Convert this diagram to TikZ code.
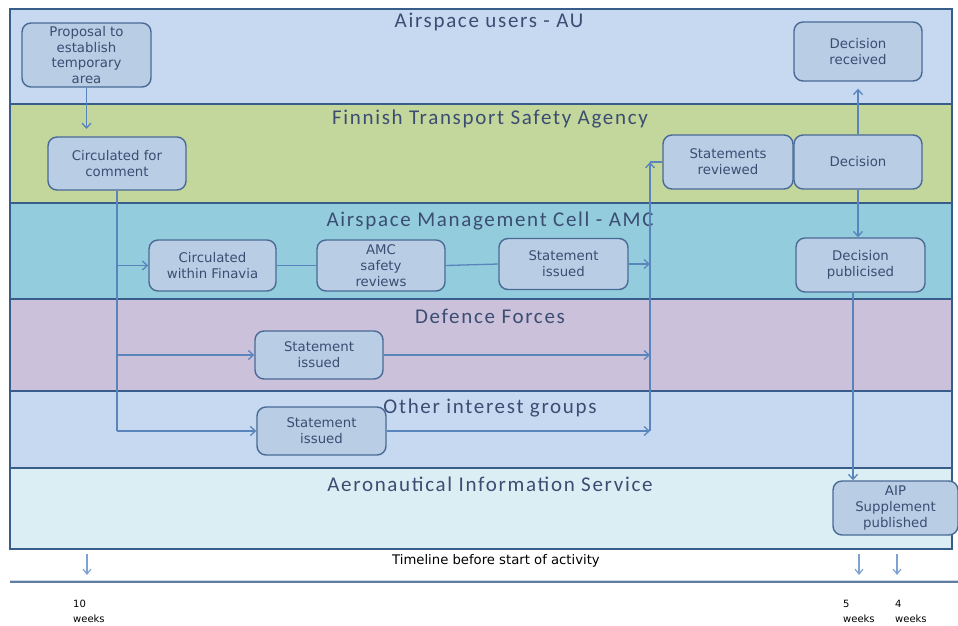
\documentclass[tikz,border=0pt]{standalone}
\usepackage{fontspec}
\usetikzlibrary{arrows.meta}
\newfontfamily\titlefont[LetterSpace=8]{Carlito}
\newfontfamily\boxfont{DejaVu Sans}
\newfontfamily\smallfont{DejaVu Sans}

\definecolor{laneline}{HTML}{385D8A}
\definecolor{auc}{HTML}{C6D9F1}
\definecolor{ftsac}{HTML}{C3D69B}
\definecolor{amcc}{HTML}{93CDDD}
\definecolor{dfc}{HTML}{CCC1DA}
\definecolor{oigc}{HTML}{C6D9F1}
\definecolor{aisc}{HTML}{DBEEF4}
\definecolor{boxfill}{HTML}{B9CDE5}
\definecolor{boxline}{HTML}{4A6A96}
\definecolor{textc}{HTML}{3B4D72}
\definecolor{flow}{HTML}{5A84BC}
\definecolor{tick}{HTML}{7EA3D3}

\tikzset{
  lane/.style={draw=laneline, line width=1.4pt},
  lanetitle/.style={font=\titlefont\fontsize{21}{23}\selectfont, text=textc, inner sep=0pt},
  box/.style={draw=boxline, fill=boxfill, line width=1.4pt, rounded corners=9pt,
    align=center, text=textc, inner sep=0pt,
    font=\boxfont\fontsize{13.3}{15.8}\selectfont},
  conn/.style={draw=flow, line width=1.3pt},
  arr/.style={conn, -{Straight Barb[length=5pt,width=9pt,line width=1.3pt]}},
  tickarr/.style={draw=tick, line width=1.2pt, -{Straight Barb[length=5pt,width=8pt,line width=1.2pt]}},
  note/.style={font=\smallfont\fontsize{13.2}{15}\selectfont, text=black, inner sep=0pt},
  weeks/.style={font=\smallfont\fontsize{10}{15}\selectfont, text=black, inner sep=0pt, align=left, anchor=north west}
}

\begin{document}
\begin{tikzpicture}[x=1pt, y=-1pt]
\useasboundingbox (0,0) rectangle (958,625);

% swim lanes
\filldraw[lane, fill=auc]  (10,9)   rectangle (952,104);
\filldraw[lane, fill=ftsac](10,104) rectangle (952,203);
\filldraw[lane, fill=amcc] (10,203) rectangle (952,299);
\filldraw[lane, fill=dfc]  (10,299) rectangle (952,391);
\filldraw[lane, fill=oigc] (10,391) rectangle (952,468);
\filldraw[lane, fill=aisc] (10,468) rectangle (952,549);

\node[lanetitle] (tAU)  at (489,22)  {Airspace users - AU};
\node[lanetitle] (tFT)  at (490,119) {Finnish Transport Safety Agency};
\node[lanetitle] (tAMC) at (490,221) {Airspace Management Cell - AMC};
\node[lanetitle] (tDF)  at (490,316) {Defence Forces};
\node[lanetitle] (tOIG) at (490,408) {Other interest groups};
\node[lanetitle] (tAIS) at (490,484) {Aeronautical Information Service};

% process steps
\node[box, minimum width=129pt, minimum height=64pt] (prop) at (86.5,55)   {Proposal to\\establish\\temporary\\area};
\node[box, minimum width=138pt, minimum height=53pt] (circ) at (117,163.5) {Circulated for\\comment};
\node[box, minimum width=127pt, minimum height=51pt] (fin)  at (212.5,265.5) {Circulated\\within Finavia};
\node[box, minimum width=128pt, minimum height=51pt] (amcs) at (381,265.5) {AMC\\safety\\reviews};
\node[box, minimum width=129pt, minimum height=51pt] (stA)  at (563.5,264) {Statement\\issued};
\node[box, minimum width=128pt, minimum height=48pt] (stD)  at (319,355)   {Statement\\issued};
\node[box, minimum width=129pt, minimum height=48pt] (stO)  at (321.5,431) {Statement\\issued};
\node[box, minimum width=130pt, minimum height=54pt] (srev) at (728,162)   {Statements\\reviewed};
\node[box, minimum width=128pt, minimum height=54pt] (dec)  at (858,162)   {Decision};
\node[box, minimum width=128pt, minimum height=59pt] (drec) at (858,51.5)  {Decision\\received};
\node[box, minimum width=129pt, minimum height=54pt] (dpub) at (860.5,265) {Decision\\publicised};
\node[box, minimum width=125pt, minimum height=54pt] (aip)  at (895.5,508) {AIP\\Supplement\\published};

% flow
\coordinate (p1) at (86.5,129);
\draw[arr] (prop.south) -- (p1);

\draw[conn] (circ.south) -- (circ.south |- stO.west);
\draw[arr] (circ.south |- fin.west) -- (fin.west);
\draw[arr] (circ.south |- stD.west) -- (stD.west);
\draw[arr] (circ.south |- stO.west) -- (stO.west);

\draw[conn] (fin.east) -- (amcs.west);
\draw[conn] (amcs.east) -- (stA.west);

\coordinate (mg) at (650,162);
\draw[arr] (stA.east) -- (stA.east -| mg);
\draw[arr] (stD.east) -- (stD.east -| mg);
\draw[arr] (stO.east) -- (stO.east -| mg);
\draw[arr] (stO.east -| mg) -- (mg);
\draw[conn] (mg) -- (srev.west);

\draw[arr, shorten >=7pt] (dec.north) -- (drec.south);
\draw[arr] (dec.south) -- (dec.south |- dpub.north);
\draw[arr] ([xshift=-7.5pt]dpub.south) -- ([xshift=-7.5pt]dpub.south |- aip.north);

% timeline
\coordinate (t1a) at (87,554);  \coordinate (t1b) at (87,575);
\coordinate (t2a) at (859,554); \coordinate (t2b) at (859,575);
\coordinate (t3a) at (897,554); \coordinate (t3b) at (897,575);
\draw[tickarr] (t1a) -- (t1b);
\draw[tickarr] (t2a) -- (t2b);
\draw[tickarr] (t3a) -- (t3b);
\node[note] (tl) at (496,561) {Timeline before start of activity};

\coordinate (la) at (10,582); \coordinate (lb) at (958,582);
\draw[draw=laneline!80, line width=2pt] (la) -- (lb);
\draw[draw=laneline!25, line width=1pt] ([yshift=2pt]la) -- ([yshift=2pt]lb);

\node[weeks] (w10) at (73,600)  {10\\weeks};
\node[weeks] (w5)  at (843,600) {5\\weeks};
\node[weeks] (w4)  at (895,600) {4\\weeks};
\end{tikzpicture}
\end{document}
